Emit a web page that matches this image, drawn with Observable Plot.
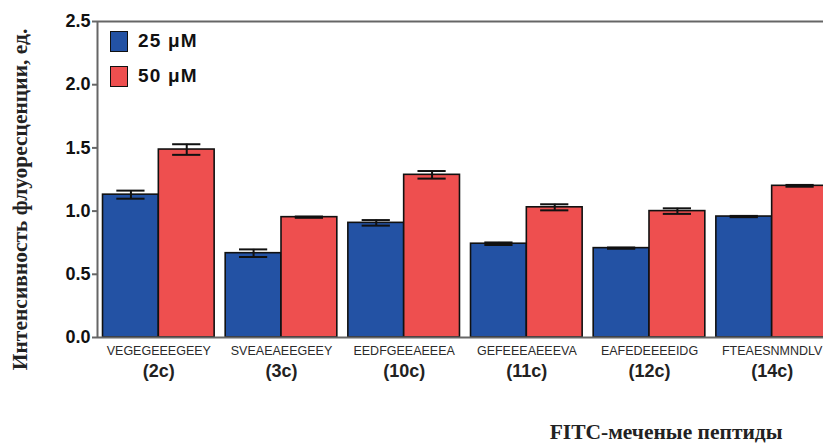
<!DOCTYPE html>
<html>
<head>
<meta charset="utf-8">
<script src="https://cdn.jsdelivr.net/npm/d3@7"></script>
<script src="https://cdn.jsdelivr.net/npm/@observablehq/plot@0.6"></script>
<style>
  html, body { margin: 0; padding: 0; background: #fff; overflow: hidden; width: 823px; height: 443px; }
  #wrap { position: relative; width: 823px; height: 443px; overflow: hidden; }
  #chart { position: absolute; left: 0; top: 0; }
  #chart svg { max-width: none !important; }
  .leg { position: absolute; left: 110px; font-family: "Liberation Sans", Arial, sans-serif; font-weight: bold; font-size: 19px; letter-spacing: 1.2px; color: #111; }
  .leg .sw { position: absolute; left: 0; top: 0; width: 16px; height: 19px; border: 1.5px solid #111; }
  .leg .lb { position: absolute; left: 28px; top: -1px; white-space: nowrap; }
</style>
</head>
<body>
<div id="wrap">
  <div id="chart"></div>
  <div class="leg" style="top:31px"><div class="sw" style="background:#2352a4"></div><div class="lb">25 μM</div></div>
  <div class="leg" style="top:66px"><div class="sw" style="background:#ee4f4f"></div><div class="lb">50 μM</div></div>
</div>
<script>
const peptides = ["VEGEGEEEGEEY", "SVEAEAEEGEEY", "EEDFGEEAEEEA", "GEFEEEAEEEVA", "EAFEDEEEEIDG", "FTEAESNMNDLV"];
const codes = ["(2c)", "(3c)", "(10c)", "(11c)", "(12c)", "(14c)"];
const val25 = [1.13, 0.667, 0.907, 0.742, 0.707, 0.957];
const err25 = [0.032, 0.03, 0.022, 0.01, 0.005, 0.005];
const val50 = [1.487, 0.952, 1.287, 1.03, 1.0, 1.2];
const err50 = [0.042, 0.005, 0.03, 0.024, 0.022, 0.007];
const yTicks = [0, 0.5, 1.0, 1.5, 2.0, 2.5];
const yTitle = "Интенсивность флуоресценции, ед.";
const xTitle = "FITC-меченые пептиды";

const colors = {"25": "#2352a4", "50": "#ee4f4f"};
const barW = 0.455;
const capW = 0.115;

const rows = [];
peptides.forEach((p, i) => {
  rows.push({i, conc: "25", v: val25[i], e: err25[i], x1: i - barW, x2: i});
  rows.push({i, conc: "50", v: val50[i], e: err50[i], x1: i, x2: i + barW});
});
rows.forEach(r => { r.c = (r.x1 + r.x2) / 2; });
const groups = peptides.map((p, i) => ({i, p, code: codes[i]}));

const sans = "'Liberation Sans', Arial, sans-serif";
const serif = "'Liberation Serif', 'Times New Roman', serif";

const chart = Plot.plot({
  width: 833,
  height: 443,
  marginLeft: 97,
  marginRight: 0,
  marginTop: 21,
  marginBottom: 106,
  style: {fontFamily: sans, background: "#fff", overflow: "visible", maxWidth: "none"},
  x: {type: "linear", domain: [-0.5, 5.5], axis: null},
  y: {domain: [0, 2.5], axis: null},
  marks: [
    Plot.rectY(rows, {x1: "x1", x2: "x2", y1: 0, y2: "v", fill: d => colors[d.conc], stroke: "#111", strokeWidth: 1.6}),
    Plot.ruleX(rows, {x: "c", y1: d => d.v - d.e, y2: d => d.v + d.e, stroke: "#111", strokeWidth: 2}),
    Plot.ruleY(rows, {y: d => d.v + d.e, x1: d => d.c - capW, x2: d => d.c + capW, stroke: "#111", strokeWidth: 2}),
    Plot.ruleY(rows, {y: d => d.v - d.e, x1: d => d.c - capW, x2: d => d.c + capW, stroke: "#111", strokeWidth: 2}),
    Plot.ruleY([0, 2.5], {stroke: "#666", strokeWidth: 2}),
    Plot.ruleX([-0.5], {y1: 0, y2: 2.5, stroke: "#666", strokeWidth: 2}),
    Plot.axisY({ticks: yTicks, tickFormat: d3.format(".1f"), tickSize: 5, tickPadding: 2, stroke: "#666", strokeWidth: 2, fill: "#111", fontSize: 18, fontWeight: "bold", letterSpacing: 0.6, label: null}),
    Plot.text(groups, {x: "i", text: "p", frameAnchor: "bottom", lineAnchor: "middle", dy: 13, fontSize: 12.5, fill: "#2a2a2a", fontWeight: 500, letterSpacing: 1.3}),
    Plot.text(groups, {x: "i", text: "code", frameAnchor: "bottom", lineAnchor: "middle", dy: 34, fontSize: 18, fill: "#222", fontWeight: "bold"}),
    Plot.text([yTitle], {frameAnchor: "left", textAnchor: "middle", lineAnchor: "middle", rotate: -90, dx: -77, dy: 20, fontFamily: serif, fontSize: 21.5, fontWeight: "bold", fill: "#222"}),
    Plot.text([xTitle], {frameAnchor: "bottom-right", textAnchor: "end", lineAnchor: "middle", dx: -51, dy: 95, fontFamily: serif, fontSize: 21.5, fontWeight: "bold", fill: "#222"})
  ]
});
document.getElementById("chart").appendChild(chart);
</script>
</body>
</html>
